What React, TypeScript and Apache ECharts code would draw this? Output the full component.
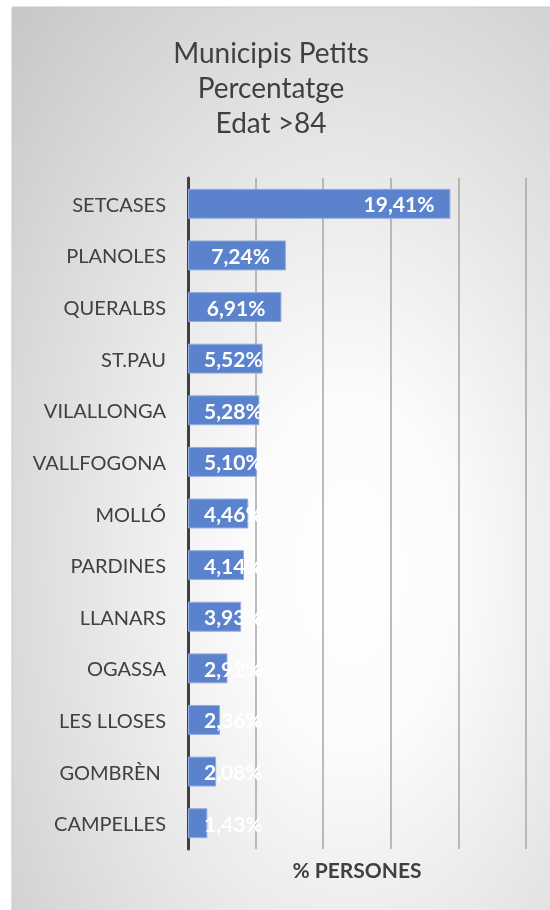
import React, { useEffect, useRef } from "react";
import * as echarts from "echarts";

const titleLines = ["Municipis Petits", "Percentatge", "Edat >84"];
const categories = [
  "SETCASES", "PLANOLES", "QUERALBS", "ST.PAU", "VILALLONGA", "VALLFOGONA",
  "MOLLÓ", "PARDINES", "LLANARS", "OGASSA", "LES LLOSES", "GOMBRÈN ", "CAMPELLES",
];
const values = [19.41, 7.24, 6.91, 5.52, 5.28, 5.10, 4.46, 4.14, 3.93, 2.92, 2.36, 2.08, 1.43];
const axisName = "% PERSONES";
const insideRightThreshold = 6.5;

export default function App() {
  const ref = useRef<HTMLDivElement>(null);
  useEffect(() => {
    if (!ref.current) return;
    const chart = echarts.init(ref.current, null, { renderer: "svg" });
    const font = "Lato, 'Open Sans', sans-serif";
    const catRev = [...categories].reverse();
    const valRev = [...values].reverse();
    chart.setOption({
      animation: false,
      textStyle: { fontFamily: font },
      graphic: [
        {
          type: "rect",
          z: -10,
          shape: { x: 12, y: 7, width: 545, height: 910 },
          style: {
            fill: {
              type: "radial",
              x: 0.62,
              y: 0.62,
              r: 1.0,
              colorStops: [
                { offset: 0, color: "#ffffff" },
                { offset: 0.2, color: "#fbfbfb" },
                { offset: 1, color: "#bdbdbd" },
              ],
            },
            stroke: "#c8c8c8",
            lineWidth: 1,
          },
        },
      ],
      title: {
        text: titleLines.join("\n"),
        left: 266,
        top: 29,
        textAlign: "center",
        textStyle: {
          fontFamily: font,
          fontSize: 28,
          fontWeight: "normal",
          color: "#404040",
          lineHeight: 35,
        },
      },
      grid: { left: 188, right: 24, top: 178, bottom: 61, containLabel: false },
      xAxis: {
        type: "value",
        min: 0,
        max: 25,
        interval: 5,
        axisLabel: { show: false },
        axisLine: { show: false },
        axisTick: { show: false },
        splitLine: { show: true, lineStyle: { color: "#a6a6a6", width: 1.5 } },
        name: axisName,
        nameLocation: "middle",
        nameGap: 10,
        nameTextStyle: { fontFamily: font, fontSize: 21, fontWeight: "bold", color: "#404040" },
      },
      yAxis: {
        type: "category",
        data: catRev,
        axisLine: { show: true, lineStyle: { color: "#404040", width: 3 } },
        axisTick: { show: false },
        axisLabel: { fontFamily: font, fontSize: 20, color: "#404040", margin: 22 },
        splitLine: { show: false },
      },
      series: [
        {
          type: "bar",
          barCategoryGap: "42%",
          itemStyle: { color: "#5b82cc", borderColor: "#93ade0", borderWidth: 1 },
          data: valRev.map((v) => ({
            value: v,
            label: {
              position: v >= insideRightThreshold ? "insideRight" : "insideLeft",
              distance: 16,
            },
          })),
          label: {
            show: true,
            color: "#ffffff",
            fontFamily: font,
            fontSize: 21,
            fontWeight: "bold",
            formatter: (p: any) => p.value.toFixed(2).replace(".", ",") + "%",
          },
        },
      ],
    });
    return () => chart.dispose();
  }, []);
  return (
    <div
      ref={ref}
      style={{ position: "fixed", left: 0, top: 0, width: 550, height: 910 }}
    />
  );
}
